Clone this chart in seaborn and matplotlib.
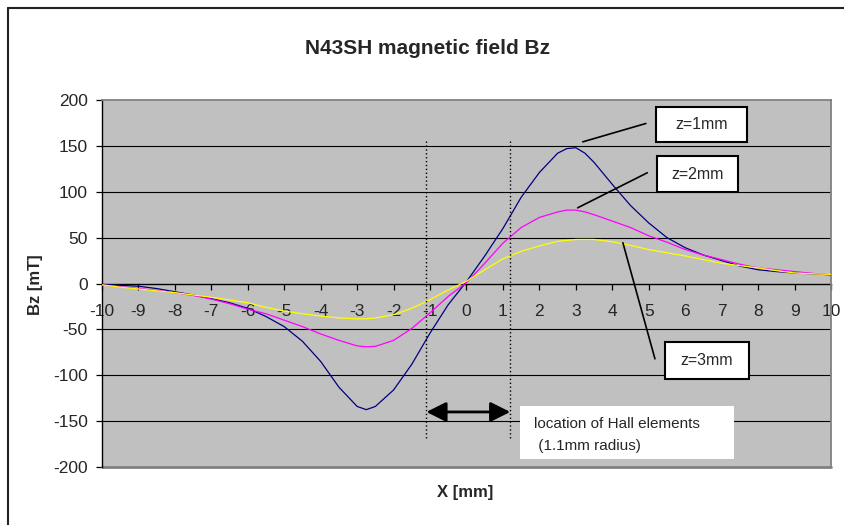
import numpy as np
import pandas as pd
import matplotlib
matplotlib.use("Agg")
import matplotlib.pyplot as plt
import matplotlib.patches as mpatches
from matplotlib.lines import Line2D
import seaborn as sns

# ---------------- data ----------------
x_mm = [-10, -9.5, -9, -8.5, -8, -7.5, -7, -6.5, -6, -5.5, -5, -4.5, -4, -3.5,
        -3, -2.75, -2.5, -2, -1.5, -1, -0.5, 0, 0.5, 1, 1.5, 2, 2.5, 2.75, 3,
        3.25, 3.5, 4, 4.5, 5, 5.5, 6, 6.5, 7, 7.5, 8, 8.5, 9, 9.5, 10]

bz_z1 = [-1, -2, -3, -5.5, -9, -12.5, -16.5, -21, -27, -36, -47, -63, -85, -113,
         -134, -137.5, -134, -116, -88, -54, -23, 2, 30, 60, 94, 121, 142, 147, 148,
         142, 132, 108, 85, 66, 50, 39, 31, 25, 19, 15, 13, 11.5, 10.5, 9.5]

bz_z2 = [-1.5, -3.5, -5.5, -7.5, -10, -13, -17, -22, -28, -33, -40, -47, -55, -62,
         -68, -69, -68.5, -62, -49, -32, -14, 1, 22, 44, 61, 72, 78, 80, 80,
         78, 75, 68, 61, 52, 45, 37, 31, 26, 21, 17, 15, 13, 11, 9.5]

bz_z3 = [-1.5, -4, -6, -8, -10, -12.5, -15, -18, -21, -26, -30, -33, -35.5, -37.5,
         -38.5, -38.5, -37.5, -34, -27, -17.5, -7, 2.5, 15, 27, 35, 41, 46, 47, 48,
         48, 48, 45.5, 41.5, 37, 33.5, 30, 26, 22, 19.5, 17, 14, 11.5, 10.5, 10]

series_names = ["z=1mm", "z=2mm", "z=3mm"]
series_colors = ["#000080", "#FF00FF", "#FFFF00"]

x_ticks = list(range(-10, 11))
y_ticks = [-200, -150, -100, -50, 0, 50, 100, 150, 200]
grid_vals = [-150, -100, -50, 50, 100, 150]

title_text = "N43SH magnetic field Bz"
xlabel_text = "X [mm]"
ylabel_text = "Bz [mT]"
hall_text = "location of Hall elements\n (1.1mm radius)"
hall_x = [-1.1, 1.2]

# ---------------- build frame ----------------
df = pd.concat([
    pd.DataFrame({"x": x_mm, "Bz": vals, "series": name})
    for name, vals in zip(series_names, [bz_z1, bz_z2, bz_z3])
], ignore_index=True)

sns.set_theme(style="white")
plt.rcParams["font.family"] = ["Liberation Sans", "DejaVu Sans"]
plt.rcParams["axes.unicode_minus"] = False

W, H = 845, 525
fig = plt.figure(figsize=(W / 100, H / 100), dpi=100)
fig.patch.set_facecolor("white")
ax = fig.add_axes([102 / W, 58 / H, 729 / W, 367 / H])
ax.set_facecolor("#C0C0C0")

# grid lines
for g in grid_vals:
    ax.axhline(g, color="black", lw=0.8, zorder=1)

sns.lineplot(data=df, x="x", y="Bz", hue="series", hue_order=series_names,
             palette=series_colors, estimator=None, legend=False, lw=0.9,
             ax=ax, zorder=3)

ax.set_xlim(-10, 10)
ax.set_ylim(-200, 200)
ax.set_xticks(x_ticks)
ax.set_xticklabels([str(t) for t in x_ticks])
ax.set_yticks(y_ticks)
ax.set_yticklabels([str(t) for t in y_ticks])
ax.set_xlabel("")
ax.set_ylabel("")

# spines
ax.spines["bottom"].set_position(("data", 0))
ax.spines["bottom"].set_color("black")
ax.spines["bottom"].set_linewidth(1.0)
ax.spines["bottom"].set_zorder(2)
ax.spines["left"].set_color("black")
ax.spines["left"].set_linewidth(1.0)
for s in ["top", "right"]:
    ax.spines[s].set_color("#808080")
    ax.spines[s].set_linewidth(1.3)
ax.axhline(-200, color="#808080", lw=2.0, clip_on=False, zorder=2)

ax.tick_params(axis="x", direction="out", length=4.3, width=0.9, color="black",
               pad=10.3, labelsize=12.5, bottom=True)
ax.tick_params(axis="y", direction="out", length=4.3, width=0.9, color="black",
               pad=6, labelsize=12.5, left=True)

# Hall element markers
for hx in hall_x:
    ax.plot([hx, hx], [155, -170], color="black", lw=1.0, ls=(0, (1, 1.8)), zorder=4)
ax.annotate("", xy=(hall_x[0], -140), xytext=(hall_x[1], -140),
            arrowprops=dict(arrowstyle="<|-|>,head_length=0.8,head_width=0.4",
                            mutation_scale=15, lw=2.0, color="black",
                            shrinkA=0, shrinkB=0), zorder=5)
ax.add_patch(mpatches.Rectangle((1.48, -191), 7.35 - 1.48, 58,
                                facecolor="white", edgecolor="none", zorder=5))
ax.text(1.85, -165, hall_text, ha="left", va="center", fontsize=11,
        linespacing=1.7, zorder=6)

# series label boxes with leader lines
boxes = [
    (series_names[0], (5.20, 153.7, 2.50, 39.2), ((3.19, 154.4), (4.92, 174.4))),
    (series_names[1], (5.23, 99.9, 2.22, 38.8), ((3.05, 82.5), (4.96, 120.7))),
    (series_names[2], (5.45, -103.9, 2.30, 39.9), ((4.29, 44.4), (5.17, -82.1))),
]
for label, (bx, by, bw, bh), (p0, p1) in boxes:
    ax.add_patch(mpatches.Rectangle((bx, by), bw, bh, facecolor="white",
                                    edgecolor="black", lw=1.5, zorder=6,
                                    clip_on=False))
    ax.text(bx + bw / 2, by + bh / 2, label, ha="center", va="center",
            fontsize=11.5, zorder=7)
    ax.plot([p0[0], p1[0]], [p0[1], p1[1]], color="black", lw=1.2, zorder=6)

# texts
fig.text(428 / W, 1 - 48 / H, title_text, ha="center", va="center",
         fontsize=15, fontweight="bold")
fig.text(465 / W, 1 - 493 / H, xlabel_text, ha="center", va="center",
         fontsize=12, fontweight="bold")
fig.text(36 / W, 1 - 285 / H, ylabel_text, ha="center", va="center",
         fontsize=12, fontweight="bold", rotation=90)

# chart-area border (top and left visible)
fig.add_artist(Line2D([8 / W, 1], [1 - 8 / H, 1 - 8 / H], color="#222222", lw=1.5,
                      transform=fig.transFigure))
fig.add_artist(Line2D([8 / W, 8 / W], [0, 1 - 8 / H], color="#222222", lw=1.5,
                      transform=fig.transFigure))

fig.savefig("out.png", dpi=100)
